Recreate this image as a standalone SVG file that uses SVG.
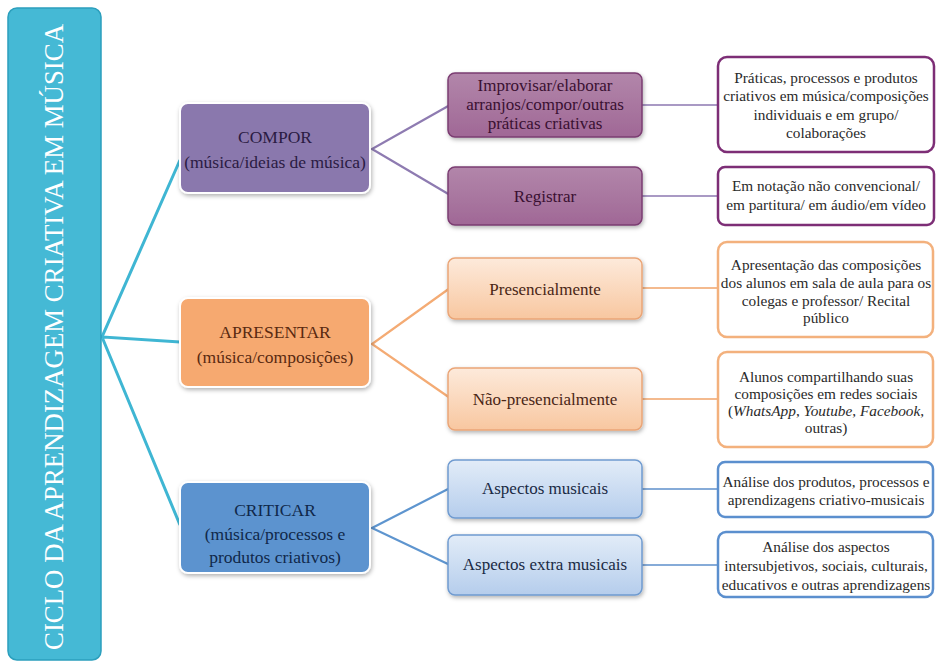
<svg xmlns="http://www.w3.org/2000/svg" width="936" height="665" viewBox="0 0 936 665">
<defs>
<filter id="sh" x="-10%" y="-10%" width="125%" height="130%">
<feDropShadow dx="1" dy="2" stdDeviation="2" flood-color="#000" flood-opacity="0.3"/>
</filter>
<linearGradient id="gPur" x1="0" y1="0" x2="0" y2="1"><stop offset="0" stop-color="#b286aa"/><stop offset="1" stop-color="#a06896"/></linearGradient>
<linearGradient id="gOr" x1="0" y1="0" x2="0" y2="1"><stop offset="0" stop-color="#fdeadb"/><stop offset="1" stop-color="#f8c7a0"/></linearGradient>
<linearGradient id="gBl" x1="0" y1="0" x2="0" y2="1"><stop offset="0" stop-color="#e2ecf8"/><stop offset="1" stop-color="#b5cdec"/></linearGradient>
</defs>
<rect width="936" height="665" fill="#fff"/>
<g id="connectors" fill="none">
<path stroke="#3fb6d3" stroke-width="3" d="M180,160 L102,337 L180,342 M102,337 L180,525"/>
<path stroke="#8e7bb1" stroke-width="2.2" d="M450,105 L372,149 L450,195"/>
<path stroke="#f4ab74" stroke-width="2.2" d="M450,288 L372,344 L450,398"/>
<path stroke="#5e95cf" stroke-width="2.2" d="M450,488 L372,528 L450,565"/>
<path stroke="#a999c4" stroke-width="1.8" d="M642,105 H718 M642,196 H718"/>
<path stroke="#f4ba8e" stroke-width="1.8" d="M642,288 H718 M642,399 H718"/>
<path stroke="#86abd8" stroke-width="1.8" d="M642,489 H718 M642,565 H718"/>
</g>
<g id="root">
<rect x="8" y="8" width="93" height="652" rx="9" fill="#45b9d5" stroke="#2b9fbd" stroke-width="1.5"/>
<text transform="translate(63,337) rotate(-90)" font-family="Liberation Serif" font-size="27" fill="#fff" text-anchor="middle" textLength="626" lengthAdjust="spacingAndGlyphs">CICLO DA APRENDIZAGEM CRIATIVA EM MÚSICA</text>
</g>
<g id="compor">
<rect x="180" y="103" width="190" height="90" rx="8" fill="#8a78ad" stroke="#fff" stroke-width="2" filter="url(#sh)"/>
<text font-family="Liberation Serif" font-size="17.5" text-anchor="middle" fill="#2b1b43"><tspan x="275" y="143">COMPOR</tspan><tspan x="275" y="168">(música/ideias de música)</tspan></text>
</g>
<g id="apresentar">
<rect x="180" y="298" width="190" height="89" rx="8" fill="#f6a96f" stroke="#fff" stroke-width="2" filter="url(#sh)"/>
<text font-family="Liberation Serif" font-size="17.5" text-anchor="middle" fill="#5a2a10"><tspan x="275" y="338">APRESENTAR</tspan><tspan x="275" y="363">(música/composições)</tspan></text>
</g>
<g id="criticar">
<rect x="180" y="482" width="190" height="91" rx="8" fill="#5b93cf" stroke="#fff" stroke-width="2" filter="url(#sh)"/>
<text font-family="Liberation Serif" font-size="17.5" text-anchor="middle" fill="#10284a"><tspan x="275" y="516">CRITICAR</tspan><tspan x="275" y="540">(música/processos e</tspan><tspan x="275" y="563">produtos criativos)</tspan></text>
</g>
<g id="improvisar">
<rect x="448" y="73" width="194" height="64" rx="7" fill="url(#gPur)" stroke="#7b3c72" stroke-width="1.5" filter="url(#sh)"/>
<text font-family="Liberation Serif" font-size="17" text-anchor="middle" fill="#3a1032"><tspan x="545" y="91">Improvisar/elaborar</tspan><tspan x="545" y="110">arranjos/compor/outras</tspan><tspan x="545" y="129">práticas criativas</tspan></text>
</g>
<g id="registrar">
<rect x="448" y="167" width="194" height="58" rx="7" fill="url(#gPur)" stroke="#7b3c72" stroke-width="1.5" filter="url(#sh)"/>
<text font-family="Liberation Serif" font-size="17" text-anchor="middle" fill="#3a1032" x="545" y="202">Registrar</text>
</g>
<g id="presencial">
<rect x="448" y="258" width="194" height="61" rx="7" fill="url(#gOr)" stroke="#eaa577" stroke-width="1.5" filter="url(#sh)"/>
<text font-family="Liberation Serif" font-size="17" text-anchor="middle" fill="#4a2616" x="545" y="295">Presencialmente</text>
</g>
<g id="naopresencial">
<rect x="448" y="368" width="194" height="62" rx="7" fill="url(#gOr)" stroke="#eaa577" stroke-width="1.5" filter="url(#sh)"/>
<text font-family="Liberation Serif" font-size="17" text-anchor="middle" fill="#4a2616" x="545" y="405">Não-presencialmente</text>
</g>
<g id="musicais">
<rect x="448" y="460" width="194" height="58" rx="7" fill="url(#gBl)" stroke="#6f9bd0" stroke-width="1.5" filter="url(#sh)"/>
<text font-family="Liberation Serif" font-size="17" text-anchor="middle" fill="#1a2a44" x="545" y="494">Aspectos musicais</text>
</g>
<g id="extramusicais">
<rect x="448" y="535" width="194" height="60" rx="7" fill="url(#gBl)" stroke="#6f9bd0" stroke-width="1.5" filter="url(#sh)"/>
<text font-family="Liberation Serif" font-size="17" text-anchor="middle" fill="#1a2a44" x="545" y="570">Aspectos extra musicais</text>
</g>
<g id="praticas">
<rect x="718" y="57" width="216" height="95" rx="9" fill="#fff" stroke="#7d2e76" stroke-width="2.5"/>
<text font-family="Liberation Serif" font-size="15.3" text-anchor="middle" fill="#2a2a2a"><tspan x="826" y="83">Práticas, processos e produtos</tspan><tspan x="826" y="101">criativos em música/composições</tspan><tspan x="826" y="120">individuais e em grupo/</tspan><tspan x="826" y="138">colaborações</tspan></text>
</g>
<g id="notacao">
<rect x="718" y="167" width="216" height="58" rx="7" fill="#fff" stroke="#7d2e76" stroke-width="2.5"/>
<text font-family="Liberation Serif" font-size="15.3" text-anchor="middle" fill="#2a2a2a"><tspan x="826" y="191">Em notação não convencional/</tspan><tspan x="826" y="210">em partitura/ em áudio/em vídeo</tspan></text>
</g>
<g id="apresentacao">
<rect x="718" y="242" width="215" height="95" rx="9" fill="#fff" stroke="#f3b17d" stroke-width="2.5"/>
<text font-family="Liberation Serif" font-size="15.3" text-anchor="middle" fill="#2a2a2a"><tspan x="826" y="270">Apresentação das composições</tspan><tspan x="826" y="288">dos alunos em sala de aula para os</tspan><tspan x="826" y="306">colegas e professor/ Recital</tspan><tspan x="826" y="323">público</tspan></text>
</g>
<g id="alunos">
<rect x="718" y="352" width="215" height="95" rx="9" fill="#fff" stroke="#f3b17d" stroke-width="2.5"/>
<text font-family="Liberation Serif" font-size="15.3" text-anchor="middle" fill="#2a2a2a"><tspan x="826" y="382">Alunos compartilhando suas</tspan><tspan x="826" y="399">composições em redes sociais</tspan><tspan x="826" y="416">(<tspan font-style="italic">WhatsApp</tspan>, <tspan font-style="italic">Youtube</tspan>, <tspan font-style="italic">Facebook</tspan>,</tspan><tspan x="826" y="433">outras)</tspan></text>
</g>
<g id="analise1">
<rect x="718" y="462" width="215" height="55" rx="7" fill="#fff" stroke="#5b8fce" stroke-width="2.5"/>
<text font-family="Liberation Serif" font-size="15.3" text-anchor="middle" fill="#2a2a2a"><tspan x="826" y="487">Análise dos produtos, processos e</tspan><tspan x="826" y="505">aprendizagens criativo-musicais</tspan></text>
</g>
<g id="analise2">
<rect x="718" y="532" width="215" height="65" rx="8" fill="#fff" stroke="#5b8fce" stroke-width="2.5"/>
<text font-family="Liberation Serif" font-size="15.3" text-anchor="middle" fill="#2a2a2a"><tspan x="826" y="552">Análise dos aspectos</tspan><tspan x="826" y="571">intersubjetivos, sociais, culturais,</tspan><tspan x="826" y="590">educativos e outras aprendizagens</tspan></text>
</g>
</svg>
